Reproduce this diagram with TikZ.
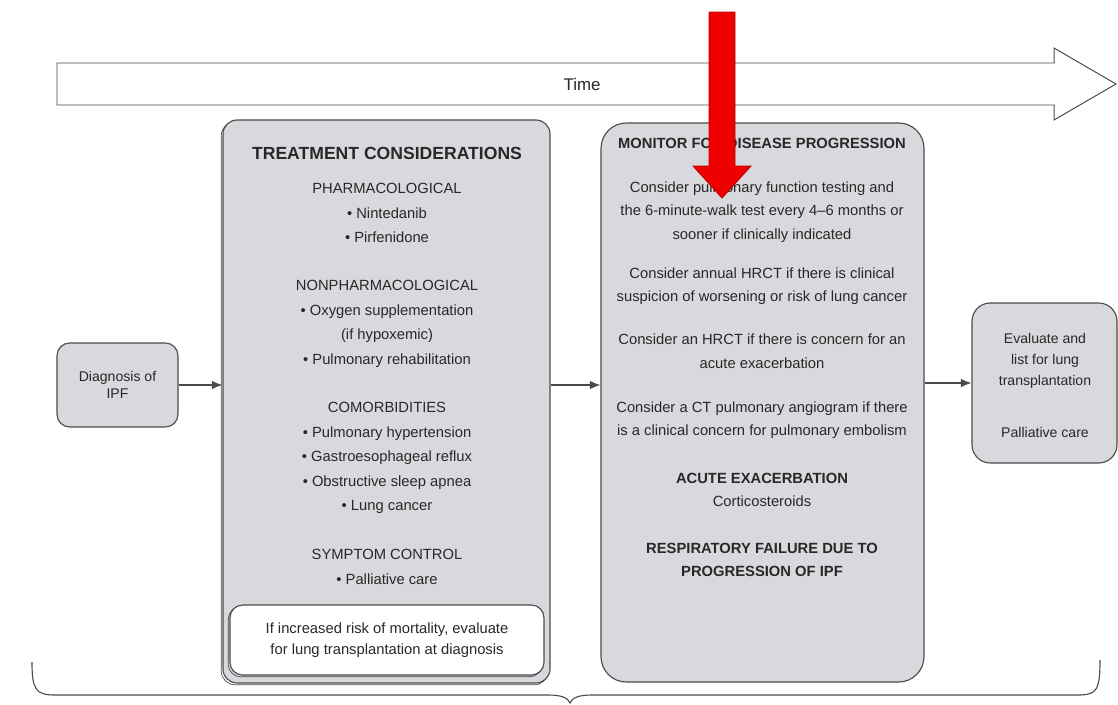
\documentclass[tikz,border=0pt]{standalone}
\usepackage{fontspec}
\setmainfont{Liberation Sans}
\usetikzlibrary{arrows.meta,fit,shadows}
\definecolor{boxgray}{RGB}{216,217,221}
\definecolor{linegray}{RGB}{75,75,75}
\definecolor{inkgray}{RGB}{40,40,40}
\definecolor{redarrow}{RGB}{238,0,0}
\definecolor{redline}{RGB}{190,0,0}

\tikzset{
  box/.style={draw=linegray, fill=boxgray, line width=0.8pt, rounded corners=#1, inner sep=0pt},
  shade/.style={drop shadow={shadow xshift=-1.3pt, shadow yshift=-1.3pt, fill=none, draw=linegray, line width=0.5pt, opacity=1}},
  body/.style={inner sep=0pt, align=center, text=inkgray, font=\fontsize{10.5}{17.4}\selectfont},
  small/.style={inner sep=0pt, align=center, text=inkgray, font=\fontsize{10}{15}\selectfont},
  head/.style={inner sep=0pt, align=center, text=inkgray, font=\fontsize{#1}{17.4}\selectfont\bfseries},
  link/.style={draw=linegray, line width=0.8pt, -{Latex[length=7.5pt,width=6pt]}}
}

\begin{document}
\begin{tikzpicture}[x=0.025cm, y=-0.025cm]
    \useasboundingbox (0,0) rectangle (1118,704);
    % Time
    \draw[linegray, line width=0.7pt, fill=white]
      (57,63) -- (1054,63) -- (1054,48) -- (1116,84) -- (1054,120) -- (1054,105) -- (57,105) -- cycle;
    \node[inner sep=0pt, text=inkgray, font=\fontsize{12}{14}\selectfont] (time) at (582,84) {Time};
    % Boxes
    \node[box=9pt, fit={(57,343) (178,427)}] (diag) {};
    \node[box=10pt, shade, fit={(223,120) (550,683)}] (treat) {};
    \node[box=9pt, shade, fill=white, fit={(230,605) (544,675)}] (risk) {};
    \node[box=18pt, fit={(601,123) (924,682)}] (monitor) {};
    \node[box=13pt, fit={(972,303) (1117,463)}] (evalbox) {};
    % Ways
    \draw[link] (diag.east) -- (diag.east -| treat.west);
    \draw[link] (treat.east |- diag.east) -- (monitor.west |- diag.east);
    \draw[link] (monitor.east |- evalbox.west) -- (evalbox.west);
    % Labels
    \node[small, font=\fontsize{10}{12}\selectfont] (diagtext) at (diag) {Diagnosis of\\IPF};
    \node[head=12.5] (treathead) at (387,153) {TREATMENT CONSIDERATIONS};
    \node[body] (pharm) at (387,213) {PHARMACOLOGICAL\\\textbullet\ Nintedanib\\\textbullet\ Pirfenidone};
    \node[body] (nonpharm) at (387,324) {NONPHARMACOLOGICAL\\\textbullet\ Oxygen supplementation\\(if hypoxemic)\\\textbullet\ Pulmonary rehabilitation};
    \node[body] (comorb) at (387,458) {COMORBIDITIES\\\textbullet\ Pulmonary hypertension\\\textbullet\ Gastroesophageal reflux\\\textbullet\ Obstructive sleep apnea\\\textbullet\ Lung cancer};
    \node[body] (symptom) at (387,567) {SYMPTOM CONTROL\\\textbullet\ Palliative care};
    \node[body, font=\fontsize{10.5}{15}\selectfont] (risktext) at (risk) {If increased risk of mortality, evaluate\\for lung transplantation at diagnosis};
    \node[head=10.5] (monhead) at (762,143) {MONITOR FOR DISEASE PROGRESSION};
    \node[body, font=\fontsize{10.5}{16.8}\selectfont] (pft) at (762,212) {Consider pulmonary function testing and\\the 6-minute-walk test every 4--6 months or\\sooner if clinically indicated};
    \node[body, font=\fontsize{10.5}{16.8}\selectfont] (hrct) at (762,286) {Consider annual HRCT if there is clinical\\suspicion of worsening or risk of lung cancer};
    \node[body, font=\fontsize{10.5}{16.8}\selectfont] (exac) at (762,351) {Consider an HRCT if there is concern for an\\acute exacerbation};
    \node[body, font=\fontsize{10.5}{16.8}\selectfont] (ctpa) at (762,420) {Consider a CT pulmonary angiogram if there\\is a clinical concern for pulmonary embolism};
    \node[body, font=\fontsize{10.5}{16.4}\selectfont] (acute) at (762,490) {\textbf{ACUTE EXACERBATION}\\Corticosteroids};
    \node[head=10.5, font=\fontsize{10.5}{16.8}\selectfont\bfseries] (resp) at (762,560) {RESPIRATORY FAILURE DUE TO\\PROGRESSION OF IPF};
    \node[small] (evaltext) at (1045,361) {Evaluate and\\list for lung\\transplantation};
    \node[small] (palltext) at (1045,432) {Palliative care};
    % Brace
    \draw[linegray, line width=0.8pt]
      (32,662) .. controls (32,690) and (36,695) .. (55,695) -- (548,695)
      .. controls (562,695) and (568,698) .. (570,703)
      .. controls (572,698) and (578,695) .. (592,695) -- (1078,695)
      .. controls (1097,695) and (1100,690) .. (1100,660);
    % Marker
    \draw[redline, line width=0.6pt, fill=redarrow]
      (709,12) -- (735,12) -- (735,166) -- (751,166) -- (722,198) -- (693,166) -- (709,166) -- cycle;
\end{tikzpicture}
\end{document}
